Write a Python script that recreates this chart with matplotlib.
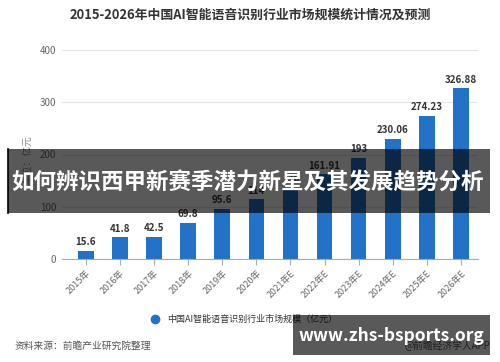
import matplotlib
matplotlib.use("Agg")
import matplotlib.pyplot as plt
from matplotlib.patches import Rectangle

plt.rcParams['font.family'] = ['Noto Sans CJK SC', 'DejaVu Sans']

years = ["2015年", "2016年", "2017年", "2018年", "2019年", "2020年",
         "2021年E", "2022年E", "2023年E", "2024年E", "2025年E", "2026年E"]
values = [15.6, 41.8, 42.5, 69.8, 95.6, 114.0, 136.0, 161.91, 193, 230.06, 274.23, 326.88]
labels = ["15.6", "41.8", "42.5", "69.8", "95.6", "114", "136", "161.91", "193", "230.06", "274.23", "326.88"]
yticks = [0, 100, 200, 300, 400]

title = "2015-2026年中国AI智能语音识别行业市场规模统计情况及预测"
legend_label = "中国AI智能语音识别行业市场规模（亿元）"
ylabel = "单位：亿元"
source = "资料来源：前瞻产业研究院整理"
credit = "@前瞻经济学人APP"
banner = "如何辨识西甲新赛季潜力新星及其发展趋势分析"
watermark = "www.zhs-bsports.org"

W, H = 500, 362
fig = plt.figure(figsize=(W / 100, H / 100), dpi=100)
ax = fig.add_axes([62 / W, (H - 259) / H, (478 - 62) / W, (259 - 50) / H])

blue = "#2272c8"
x = list(range(len(years)))
ax.bar(x, values, width=0.46, color=blue, zorder=3)
for xi, v, lab in zip(x, values, labels):
    ax.text(xi, v + 7, lab, ha="center", va="bottom", fontsize=7, fontweight="bold",
            color="#333333", zorder=4)

ax.set_xlim(-0.7, 11.5)
ax.set_ylim(0, 400)
ax.set_yticks(yticks)
ax.set_yticklabels([str(t) for t in yticks], fontsize=7, color="#666666")
ax.set_xticks(x)
ax.set_xticklabels(years, rotation=45, ha="right", rotation_mode="anchor",
                   fontsize=6.5, color="#666666")
ax.tick_params(axis="y", length=0, pad=4)
ax.tick_params(axis="x", length=4, color="#aaaaaa", pad=3)
ax.grid(axis="y", color="#e6e6e6", linewidth=0.8, zorder=0)
for s in ["top", "right", "left"]:
    ax.spines[s].set_visible(False)
ax.spines["bottom"].set_color("#aaaaaa")
ax.spines["bottom"].set_linewidth(0.8)
ax.spines["bottom"].set_zorder(4)

fig.text(250 / W, 1 - 15 / H, title, ha="center", va="center", fontsize=9.3,
         fontweight="bold", color="#333333")
fig.text(27 / W, 1 - 160 / H, ylabel, rotation=90, ha="center", va="center",
         fontsize=7, color="#888888")

# legend
fig.lines.append(plt.Line2D([155 / W], [1 - 319 / H], marker="o", markersize=6,
                            color=blue, linestyle="none", transform=fig.transFigure))
fig.text(167 / W, 1 - 319 / H, legend_label, ha="left", va="center", fontsize=6.5,
         color="#333333")

fig.text(15 / W, 1 - 346 / H, source, ha="left", va="center", fontsize=7, color="#555555")
fig.text(490 / W, 1 - 346 / H, credit, ha="right", va="center", fontsize=7, color="#555555")

# overlay banner
fig.patches.append(Rectangle((8 / W, 1 - 213 / H), (490 - 8) / W, 64 / H,
                             transform=fig.transFigure, facecolor="black", alpha=0.65,
                             edgecolor="none", zorder=10))
fig.lines.append(plt.Line2D([8 / W, 8 / W], [1 - 213 / H, 1 - 149 / H], color="black",
                            linewidth=1.2, transform=fig.transFigure, zorder=11))
fig.text(248 / W, 1 - 182 / H, banner, ha="center", va="center", fontsize=16.2,
         fontweight="bold", color="white", zorder=12)

# watermark box
fig.patches.append(Rectangle((293 / W, 1 - 355 / H), (490 - 293) / W, 40 / H,
                             transform=fig.transFigure, facecolor="black", alpha=0.65,
                             edgecolor="none", zorder=10))
fig.text(391 / W, 1 - 336 / H, watermark, ha="center", va="center", fontsize=12.5,
         fontweight="bold", color="white", zorder=12)

fig.savefig("out.png", dpi=100)
